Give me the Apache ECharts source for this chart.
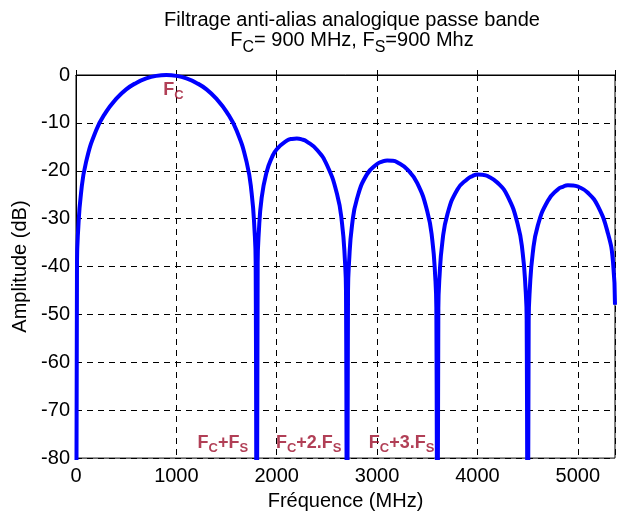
<!DOCTYPE html>
<html>
<head>
<meta charset="utf-8">
<script src="https://cdn.jsdelivr.net/npm/echarts@6/dist/echarts.min.js"></script>
<style>
  html, body { margin: 0; padding: 0; background: #fff; }
  #chart { width: 618px; height: 516px; }
</style>
</head>
<body>
<div id="chart"></div>
<script>
// fréquences (MHz) et amplitudes (dB)
const freqs = [
  0, 10, 20, 50, 100, 200, 300, 400, 500, 600, 700, 800, 900,
  1000, 1100, 1200, 1300, 1400, 1500, 1600, 1700, 1750, 1780, 1790, 1800,
  1810, 1820, 1850, 1900, 1950, 2000, 2100, 2150, 2200, 2250, 2300, 2400, 2500, 2600, 2650, 2680, 2690, 2700,
  2710, 2720, 2750, 2800, 2900, 3000, 3050, 3100, 3150, 3200, 3300, 3400, 3500, 3550, 3580, 3590, 3600,
  3610, 3620, 3650, 3700, 3800, 3900, 3950, 4000, 4050, 4100, 4200, 4300, 4400, 4450, 4480, 4490, 4500,
  4510, 4520, 4550, 4600, 4700, 4800, 4850, 4900, 4950, 5000, 5100, 5200, 5300, 5350, 5370
];
const amplitudes = [
  -120, -39, -32.9, -24.7, -18.2, -11.6, -7.7, -5.0, -3.0, -1.65, -0.72, -0.18, 0,
  -0.18, -0.72, -1.65, -3.0, -5.0, -7.7, -11.6, -18.2, -24.7, -32.9, -39, -120,
  -39.2, -33.3, -25.6, -20.2, -17.3, -15.5, -13.7, -13.35, -13.27, -13.45, -13.9, -15.6, -18.8, -24.8, -30.9, -39.0, -45.1, -120,
  -45.2, -39.2, -31.4, -25.8, -20.7, -18.6, -18.1, -17.85, -17.9, -18.2, -19.7, -22.6, -28.5, -34.5, -42.5, -48.6, -120,
  -48.7, -42.7, -34.9, -29.1, -23.9, -21.7, -21.1, -20.8, -20.85, -21.1, -22.5, -25.3, -31.1, -37.1, -45.1, -51.1, -120,
  -51.2, -45.2, -37.3, -31.5, -26.3, -23.9, -23.35, -23.03, -23.05, -23.3, -24.6, -27.4, -33.1, -39.0, -48
];
// annotations : texte, fréquence, amplitude, alignement
const noteTexts = ['F{s|C}', 'F{s|C}+F{s|S}', 'F{s|C}+2.F{s|S}', 'F{s|C}+3.F{s|S}'];
const noteFreqs = [870, 1715, 1992, 2917];
const noteAmps = [-3.1, -76.9, -76.9, -76.9];
const noteAlign = ['left', 'right', 'left', 'left'];

const font = 'Liberation Sans, Arial, Helvetica, sans-serif';
const red = '#9e0f2c';

const chart = echarts.init(document.getElementById('chart'));

const noteData = noteTexts.map((t, i) => ({
  value: [noteFreqs[i], noteAmps[i]],
  label: { formatter: t, align: noteAlign[i] }
}));

chart.setOption({
  animation: false,
  title: {
    text: 'Filtrage anti-alias analogique passe bande\nF{s|C}= 900 MHz, F{s|S}=900 Mhz',
    left: 347,
    top: 5,
    textAlign: 'center',
    textStyle: {
      fontFamily: font,
      fontSize: 20,
      fontWeight: 'normal',
      color: '#000',
      lineHeight: 20,
      rich: {
        s: { fontFamily: font, fontSize: 16, color: '#000', padding: [15, 0, 0, 0] }
      }
    }
  },
  grid: {
    left: 76, right: 1, top: 75, bottom: 56,
    show: true, borderColor: '#000', borderWidth: 1
  },
  xAxis: {
    type: 'value',
    min: 0, max: 5370, interval: 1000,
    name: 'Fréquence (MHz)',
    nameLocation: 'middle',
    nameGap: 24,
    nameTextStyle: { fontFamily: font, fontSize: 20, color: '#000' },
    axisLine: { show: true, lineStyle: { color: '#000', width: 1 } },
    axisTick: { show: true, inside: true, length: 5, lineStyle: { color: '#000' } },
    axisLabel: {
      fontFamily: font, fontSize: 20, color: '#000', margin: 8,
      formatter: v => (v % 1000 === 0 ? String(v) : '')
    },
    splitLine: { show: true, lineStyle: { color: '#000', type: [6, 5], width: 1 } }
  },
  yAxis: {
    type: 'value',
    min: -80, max: 0, interval: 10,
    name: 'Amplitude (dB)',
    nameLocation: 'middle',
    nameGap: 44,
    nameTextStyle: { fontFamily: font, fontSize: 20, color: '#000' },
    axisLine: { show: true, lineStyle: { color: '#000', width: 1 } },
    axisTick: { show: true, inside: true, length: 5, lineStyle: { color: '#000' } },
    axisLabel: { fontFamily: font, fontSize: 20, color: '#000', margin: 6 },
    splitLine: { show: true, lineStyle: { color: '#000', type: [6, 5], width: 1 } }
  },
  series: [
    {
      type: 'line',
      data: freqs.map((f, i) => [f, amplitudes[i]]),
      showSymbol: false,
      smooth: 0.5,
      clip: true,
      lineStyle: { color: '#0000ff', width: 4 }
    },
    {
      type: 'scatter',
      symbolSize: 0,
      data: noteData,
      label: {
        show: true,
        position: 'inside',
        fontFamily: font,
        fontSize: 18,
        fontWeight: 'bold',
        color: red,
        rich: {
          s: { fontFamily: font, fontSize: 13, fontWeight: 'bold', color: red, padding: [11, 0, 0, 0] }
        }
      }
    }
  ]
});
</script>
</body>
</html>
